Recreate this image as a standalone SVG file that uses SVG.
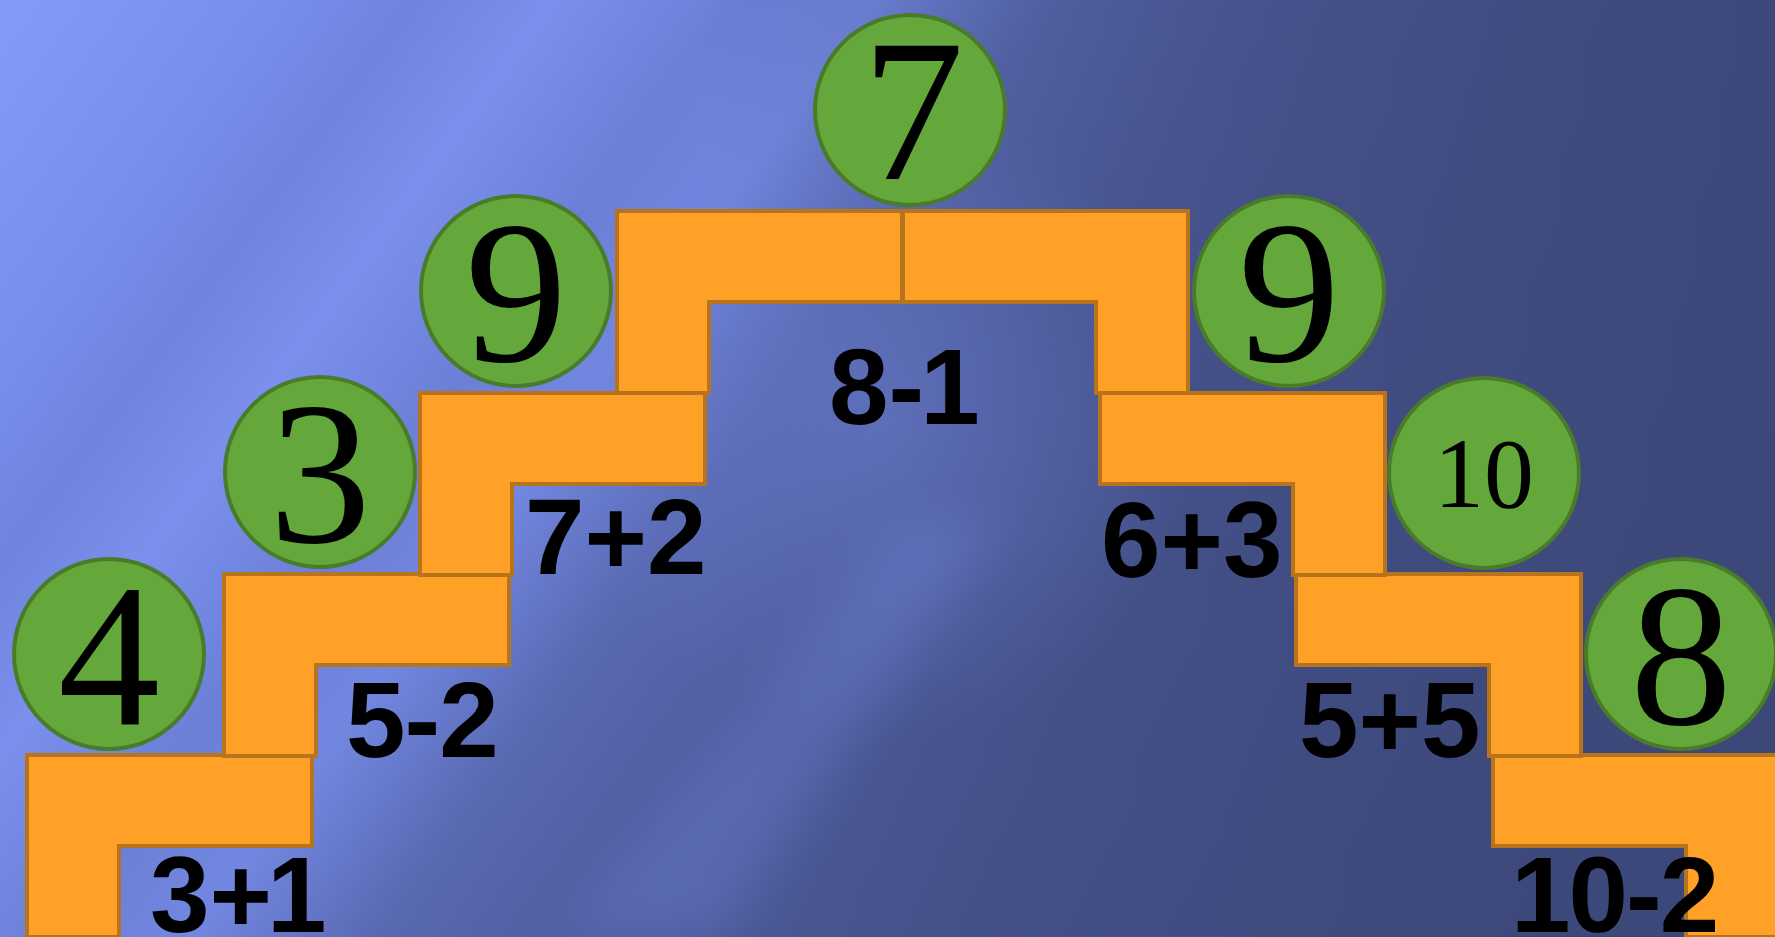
<svg xmlns="http://www.w3.org/2000/svg" width="1775" height="937" viewBox="0 0 1775 937">
  <defs>
    <linearGradient id="bg" x1="0" y1="0" x2="1500" y2="1100" gradientUnits="userSpaceOnUse">
      <stop offset="0" stop-color="#839bfa"/>
      <stop offset="0.12" stop-color="#788eec"/>
      <stop offset="0.18" stop-color="#6f84de"/>
      <stop offset="0.24" stop-color="#7a90ec"/>
      <stop offset="0.32" stop-color="#6b7fd6"/>
      <stop offset="0.38" stop-color="#7287e0"/>
      <stop offset="0.46" stop-color="#5969b2"/>
      <stop offset="0.56" stop-color="#4e5c9e"/>
      <stop offset="0.7" stop-color="#47548e"/>
      <stop offset="1" stop-color="#3c4879"/>
    </linearGradient>
    <linearGradient id="shade" x1="700" y1="0" x2="1775" y2="0" gradientUnits="userSpaceOnUse">
      <stop offset="0" stop-color="#3c4879" stop-opacity="0"/>
      <stop offset="0.5" stop-color="#3e4a7d" stop-opacity="0.55"/>
      <stop offset="1" stop-color="#3b4777" stop-opacity="0.85"/>
    </linearGradient>
    <radialGradient id="glow" cx="880" cy="420" r="320" gradientUnits="userSpaceOnUse">
      <stop offset="0" stop-color="#6a7dd0" stop-opacity="0.55"/>
      <stop offset="1" stop-color="#6a7dd0" stop-opacity="0"/>
    </radialGradient>
    <filter id="blur" x="-20%" y="-20%" width="140%" height="140%">
      <feGaussianBlur stdDeviation="25"/>
    </filter>
    <style>
      .step { fill: #ffa126; stroke: #b8741c; stroke-width: 4; stroke-linejoin: miter; }
      .ball { fill: #64a83c; stroke: #4a7b2a; stroke-width: 4; }
      .num { font-family: "Liberation Serif", "Times New Roman", serif; font-size: 204px; fill: #000; text-anchor: middle; }
      .num10 { font-family: "Liberation Serif", "Times New Roman", serif; font-size: 100px; fill: #000; text-anchor: middle; }
      .sum { font-family: "Liberation Sans", Arial, sans-serif; font-weight: bold; font-size: 107px; fill: #000; }
    </style>
    <path id="L" d="M0,0 H285 V91 H92 V182 H0 Z"/>
  </defs>

  <rect width="1775" height="937" fill="url(#bg)"/>
  <rect width="1775" height="937" fill="url(#shade)"/>
  <rect width="1775" height="937" fill="url(#glow)"/>
  <g filter="url(#blur)" opacity="0.3">
    <polygon points="560,937 720,937 1000,520 900,520" fill="#7588e0"/>
  </g>

  <g id="steps">
    <g id="step-l1"><use href="#L" class="step" x="27" y="755"/></g>
    <g id="step-l2"><use href="#L" class="step" x="224" y="574"/></g>
    <g id="step-l3"><use href="#L" class="step" x="420" y="393"/></g>
    <g id="step-l4"><use href="#L" class="step" x="617" y="211"/></g>
    <g transform="matrix(-1 0 0 1 1805 0)">
      <g id="step-r1"><use href="#L" class="step" x="27" y="755"/></g>
      <g id="step-r2"><use href="#L" class="step" x="224" y="574"/></g>
      <g id="step-r3"><use href="#L" class="step" x="420" y="393"/></g>
      <g id="step-r4"><use href="#L" class="step" x="617" y="211"/></g>
    </g>
  </g>

  <g id="connectors"/>

  <g id="ball-4"><circle class="ball" cx="109" cy="654" r="95"/><text class="num" x="109" y="724">4</text></g>
  <g id="ball-3"><circle class="ball" cx="320" cy="472" r="95"/><text class="num" x="320" y="542">3</text></g>
  <g id="ball-9a"><circle class="ball" cx="516" cy="291" r="95"/><text class="num" x="516" y="361">9</text></g>
  <g id="ball-7"><circle class="ball" cx="910" cy="110" r="95"/><text class="num" x="913" y="179">7</text></g>
  <g id="ball-9b"><circle class="ball" cx="1289" cy="291" r="95"/><text class="num" x="1289" y="361">9</text></g>
  <g id="ball-10"><circle class="ball" cx="1484" cy="473" r="95"/><text class="num10" x="1484" y="507">10</text></g>
  <g id="ball-8"><circle class="ball" cx="1681" cy="654" r="95"/><text class="num" x="1681" y="724">8</text></g>

  <g id="labels">
    <text class="sum" x="150" y="932">3+<tspan dx="-5">1</tspan></text>
    <text class="sum" x="346" y="757" letter-spacing="-1">5-2</text>
    <text class="sum" x="525" y="574">7+2</text>
    <text class="sum" x="829" y="424">8-<tspan dx="-4">1</tspan></text>
    <text class="sum" x="1101" y="577">6+3</text>
    <text class="sum" x="1299" y="757">5+5</text>
    <text class="sum" x="1511" y="932" letter-spacing="-2">10-2</text>
  </g>
</svg>
